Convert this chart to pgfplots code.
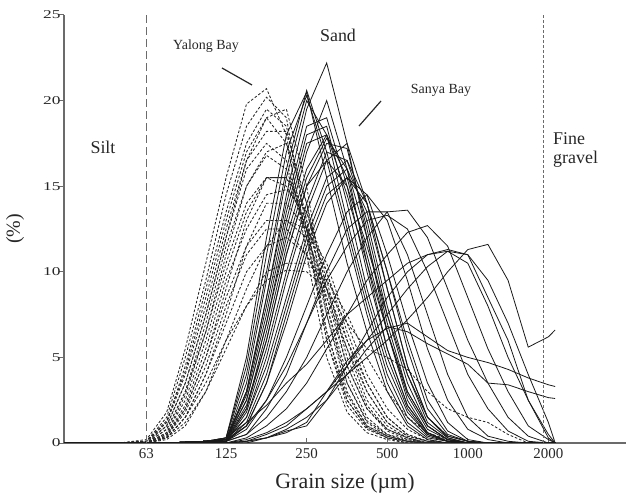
\documentclass[border=0pt]{standalone}
\usepackage{fontspec}
\setmainfont{Liberation Serif}
\newfontfamily\ytfont[FakeStretch=1.45]{Liberation Serif}
\usepackage{pgfplots}
\usepackage{pgfplotstable}
\pgfplotsset{compat=1.18}
\definecolor{axgray}{gray}{0.42}
\definecolor{txtgray}{gray}{0.15}
\begin{document}
\begin{tikzpicture}
\pgfplotstableread{
name c0 c1 c2 c3 c4 c5 c6 c7 c8 c9 c10 c11 c12 c13 c14 c15 c16 c17 c18 c19 c20 c21 c22 c23
x 31 50 63 75 88 105 125 149 177 210 250 297 354 420 500 595 707 841 1000 1189 1414 1682 2000 2120
D1 0 0 0.2 1.8 5.5 10.5 15.5 19.8 20.7 18 11 5 1.8 0.6 0.2 0 0 0 0 0 0 0 0 0
D2 0 0 0.1 1.5 5 9.5 14.5 18.5 20.2 19 12.5 6 2.2 0.8 0.3 0 0 0 0 0 0 0 0 0
D3 0 0 0.1 1.2 4.5 9 13.5 17.5 19.5 18.5 13 6.5 2.5 0.9 0.3 0.1 0 0 0 0 0 0 0 0
D4 0 0 0.1 1.2 4 8 12.5 16.5 18.2 18.2 14 7.5 3 1 0.4 0.1 0 0 0 0 0 0 0 0
D5 0 0 0 1 3.5 7.5 12 16 17.5 16.5 12 6.5 2.8 1 0.4 0.1 0 0 0 0 0 0 0 0
D6 0 0 0 0.8 3 7 11.5 15 16.8 16 12.5 7.5 3.5 1.3 0.5 0.1 0 0 0 0 0 0 0 0
D7 0 0 0 0.8 3 6.5 10.5 14 15.5 15.5 12.5 8 4 1.5 0.5 0.2 0 0 0 0 0 0 0 0
D8 0 0 0 0.6 2.5 6 10 13.5 15.5 15 13 8.5 4.5 2 0.7 0.2 0 0 0 0 0 0 0 0
D9 0 0 0 0.5 2.2 5.5 9.5 12.5 14.5 14.8 13.5 9.5 5 2.2 0.8 0.3 0 0 0 0 0 0 0 0
D10 0 0 0 0.5 2 5 8.5 11.5 13 13 12 9 5.5 2.5 1 0.3 0 0 0 0 0 0 0 0
D11 0 0 0 0.4 1.8 4.5 8 11 12.5 12.5 11 8.5 5.5 3 1.2 0.4 0.1 0 0 0 0 0 0 0
D12 0 0 0 0.3 1.5 4 7 10 11.5 12 11 9 6 3.5 1.5 0.5 0.1 0 0 0 0 0 0 0
D13 0 0 0 0.3 1.5 3.5 6 8 9.5 10.1 10 9 7 5.5 5 4.3 3 2 1.5 1.2 0.5 0 0 0
D14 0 0 0 0.3 1.2 3 5.5 8 10 10.5 10.5 9.5 7.5 5 3 1.5 0.6 0.2 0 0 0 0 0 0
D15 0 0 0 0.6 2.8 6.5 11 15 17 17.5 14 9 4.5 2 0.8 0.3 0 0 0 0 0 0 0 0
D16 0 0 0 0.4 2 5 9 13 15.5 15.5 13.5 10 6 3 1.2 0.4 0.1 0 0 0 0 0 0 0
D17 0 0 0.1 1 3.5 7.5 12 16.5 19 19.5 15 8 3.5 1.2 0.4 0.1 0 0 0 0 0 0 0 0
D18 0 0 0 0.3 1.5 4 7.5 11.5 14 14 12.5 10 6.5 3.5 1.5 0.5 0.1 0 0 0 0 0 0 0
D19 0 0 0 0.2 1 3 6 9 11.5 13 12.5 10.5 7 4 2 0.8 0.2 0 0 0 0 0 0 0
D20 0 0 0.1 1.3 4.2 8.5 13 17 19 17.5 12 6 2.5 0.9 0.3 0.1 0 0 0 0 0 0 0 0
A0 0 0 0 0 0.05 0.1 0.2 3 8.5 14.5 19.5 22.2 17.5 12 6.5 2.5 0.6 0.1 0 0 0 0 0 0
A1 0 0 0 0 0.05 0.1 0.3 4 10 16 20.6 17 12.5 8 4 1.5 0.4 0.1 0 0 0 0 0 0
A2 0 0 0 0 0.05 0.1 0.3 4.5 11 17 20.3 16.5 12 7.5 3.5 1.2 0.3 0.1 0 0 0 0 0 0
A3 0 0 0 0 0.05 0.1 0.2 3.5 9.5 15.5 20 18 13 8.5 4.5 1.8 0.5 0.1 0 0 0 0 0 0
A4 0 0 0 0 0.05 0.1 0.2 2.5 7 12.5 17 20 16 10.5 5.5 2.2 0.6 0.1 0 0 0 0 0 0
A5 0 0 0 0 0.05 0.1 0.2 2.5 7 12 16 18 15.5 11 6.5 2.8 0.8 0.2 0 0 0 0 0 0
A6 0 0 0 0 0.05 0.1 0.2 2 6.5 11.5 15.5 17.8 16 12 7 3 1 0.2 0 0 0 0 0 0
A7 0 0 0 0 0.05 0.1 0.2 2.2 6 11 15 17.5 17.2 12.5 7.5 3.5 1 0.2 0 0 0 0 0 0
A8 0 0 0 0 0.05 0.1 0.1 1.5 5 9.5 13.5 16.5 17.5 14 9 4.5 1.5 0.3 0 0 0 0 0 0
A9 0 0 0 0 0.05 0.1 0.1 1.8 5.5 10 14 17 16.5 13 8 4 1.2 0.3 0 0 0 0 0 0
A10 0 0 0 0 0.05 0.1 0.2 3 8 13.5 18 18.5 14 9 5 2 0.5 0.1 0 0 0 0 0 0
A11 0 0 0 0 0.05 0.1 0.1 1.2 4 8 12 15 16 13.5 9 4.5 1.5 0.4 0.1 0 0 0 0 0
A12 0 0 0 0 0.05 0.1 0.1 1 3.5 7.5 11.5 14.5 15.5 14 10 5.5 2 0.5 0.1 0 0 0 0 0
A13 0 0 0 0 0.05 0.1 0.3 5 12 18 20.5 15.5 10.5 6.5 3 1 0.2 0 0 0 0 0 0 0
A14 0 0 0 0 0.05 0.1 0.2 3 8.5 14 18.5 19 15 10 5.5 2.2 0.6 0.1 0 0 0 0 0 0
A15 0 0 0 0 0.05 0.1 0.2 2.8 7.5 13 17.5 18 14.5 10.5 6.5 3 1 0.2 0 0 0 0 0 0
A16 0 0 0 0 0.05 0.1 0.1 2 6 11 15 16.5 15 11.5 7.5 4 1.5 0.4 0.1 0 0 0 0 0
C1 0 0 0 0 0 0 0.1 0.8 2.5 5 8 11 13.5 14.5 13 9.5 5.5 2.5 0.8 0.2 0 0 0 0
C2 0 0 0 0 0 0 0.1 0.5 2 4 7 10 12.5 13.5 13.5 11 7.5 4 1.5 0.4 0.1 0 0 0
C3 0 0 0 0 0 0 0.2 1.5 4.5 8.5 12.5 15.5 16.5 14 10 6 2.5 0.7 0.1 0 0 0 0 0
C4 0 0 0 0 0 0 0.1 1 3.5 7 11 14 15.5 14.5 11 7 3.5 1.2 0.2 0 0 0 0 0
B1 0 0 0 0 0 0 0.1 0.5 1.5 3 5 7.5 10 12 13.5 13.6 12 9 6 3.5 1.5 0.4 0 0
B2 0 0 0 0 0 0 0.2 1 2.5 4.5 7 9.5 11.5 13 13.3 12.5 10 7 4 2 0.7 0.1 0 0
B3 0 0 0 0 0 0 0 0.3 1 2 3.5 5.5 7.5 9.5 11 12.3 12.7 11.5 8.5 5.5 3 1 0.2 0
B4 0 0 0 0 0 0 0 0.2 0.6 1.2 2 3 4.5 6 7.5 9 10.3 11.2 11 8.5 6 2.5 0.3 0
B5 0 0 0 0 0 0 0 0.1 0.5 1 2 3 4 5 6 7.2 8.5 10 11.3 11.6 9.5 5.6 6.2 6.6
B6 0 0 0 0 0 0 0 0.1 0.3 0.6 1.2 3 4.8 6 6.7 7 6.2 5.4 5 4.7 4.3 3.8 3.4 3.3
B7 0 0 0 0 0 0 0 0.1 0.3 0.8 1.5 2.5 4 5.5 6.8 6.5 5.8 5.2 4.6 3.5 3.4 3 2.65 2.6
B8 0 0 0 0 0 0 0.3 1.2 2.2 3.5 4.6 6 7.5 8.5 9.5 10.5 11 11.2 10.5 8 5 2.5 0.5 0
B9 0 0 0 0 0 0 0 0 0.3 0.7 1 2.5 4.5 6.5 8.5 10 11 11.3 11 9.5 7 4 1.2 0
}\rawdata
\pgfplotstabletranspose[colnames from=name]{\gsdata}{\rawdata}
\begin{axis}[
  at={(0,0)}, anchor=south west,
  width=562bp, height=428bp, scale only axis,
  xmode=log, log basis x=2,
  xmin=31, xmax=3900, ymin=0, ymax=25,
  axis x line=bottom, axis y line=left,
  axis line style={-, draw=axgray, line width=1.4bp},
  xtick={63,125,250,500,1000,2000},
  xticklabels={63,125,250,500,1000,2000},
  ytick={0,5,10,15,20,25},
  xminorticks=false, yminorticks=false,
  tick align=inside, major tick length=5bp,
  tick style={draw=axgray, line width=1bp},
  y tick style={xshift=-5bp},
  x tick label style={font=\fontsize{15}{15}\selectfont, text=txtgray, yshift=-2bp},
  y tick label style={font=\fontsize{12}{12}\ytfont, text=txtgray},
  /pgf/number format/assume math mode=true,
]
\pgfplotsinvokeforeach{D1,D2,D3,D4,D5,D6,D7,D8,D9,D10,D11,D12,D13,D14,D15,D16,D17,D18,D19,D20}{
  \addplot[black!85, line width=0.85bp, dash pattern=on 2.6bp off 1.9bp] table[x=x,y=#1]{\gsdata};
}
\pgfplotsinvokeforeach{A0,A1,A2,A3,A4,A5,A6,A7,A8,A9,A10,A11,A12,A13,A14,A15,A16,C1,C2,C3,C4,B1,B2,B3,B4,B5,B6,B7,B8,B9}{
  \addplot[black!90, line width=0.8bp] table[x=x,y=#1]{\gsdata};
}
\addplot[axgray, line width=1bp, dash pattern=on 8bp off 4bp] coordinates {(63,0) (63,25)};
\addplot[axgray, line width=1bp, dash pattern=on 3bp off 2bp] coordinates {(1920,0) (1920,25)};
\end{axis}
\node[font=\fontsize{18}{18}\selectfont, text=txtgray] at (39bp,296bp) {Silt};
\node[font=\fontsize{18}{18}\selectfont, text=txtgray] at (274bp,408bp) {Sand};
\node[font=\fontsize{14}{14}\selectfont, text=txtgray] at (142bp,397bp) {Yalong Bay};
\node[font=\fontsize{14}{14}\selectfont, text=txtgray] at (377bp,353bp) {Sanya Bay};
\node[font=\fontsize{18}{20}\selectfont, text=txtgray, anchor=west, align=left, inner sep=0pt] at (489bp,293bp) {Fine\\gravel};
\draw[line width=1.2bp, black!85] (158bp,375bp) -- (188bp,358bp);
\draw[line width=1.2bp, black!85] (317bp,342bp) -- (295bp,317bp);
\node[anchor=base, font=\fontsize{22}{22}\selectfont, text=txtgray] at (281bp,-45bp) {Grain size (µm)};
\node[rotate=90, font=\fontsize{20}{20}\selectfont, text=txtgray] at (-49bp,214bp) {(\%)};
\pgfresetboundingbox
\path[use as bounding box] (-64bp,-51bp) rectangle (562bp,443bp);
\end{tikzpicture}
\end{document}
